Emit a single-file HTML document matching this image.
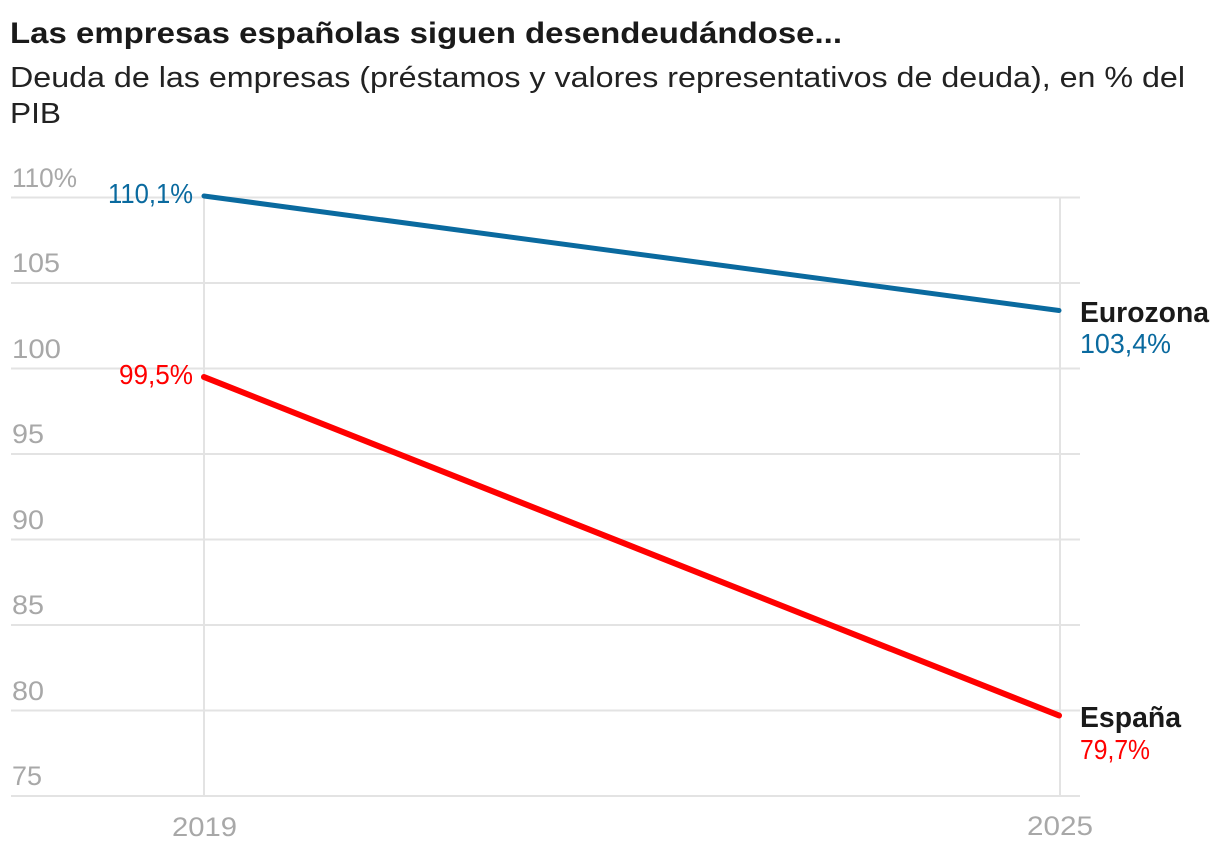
<!DOCTYPE html>
<html>
<head>
<meta charset="utf-8">
<style>
html,body{margin:0;padding:0;background:#fff;}
svg{display:block;}
</style>
</head>
<body>
<svg width="1220" height="850" viewBox="0 0 1220 850" xmlns="http://www.w3.org/2000/svg" font-family="'Liberation Sans', sans-serif">
  <rect width="1220" height="850" fill="#fff"/>
  <!-- Title -->
  <text x="10" y="43" font-size="30" font-weight="bold" fill="#1a1a1a" textLength="832" lengthAdjust="spacingAndGlyphs">Las empresas españolas siguen desendeudándose...</text>
  <text x="10" y="87" font-size="29" fill="#222" textLength="1175" lengthAdjust="spacingAndGlyphs">Deuda de las empresas (préstamos y valores representativos de deuda), en % del</text>
  <text x="10" y="123" font-size="29" fill="#222" textLength="51" lengthAdjust="spacingAndGlyphs">PIB</text>

  <!-- Gridlines -->
  <g stroke="#e3e3e3" stroke-width="2">
    <line x1="11" y1="197.5" x2="1080" y2="197.5"/>
    <line x1="11" y1="283" x2="1080" y2="283"/>
    <line x1="11" y1="368.5" x2="1080" y2="368.5"/>
    <line x1="11" y1="454" x2="1080" y2="454"/>
    <line x1="11" y1="539.5" x2="1080" y2="539.5"/>
    <line x1="11" y1="625" x2="1080" y2="625"/>
    <line x1="11" y1="710.5" x2="1080" y2="710.5"/>
    <line x1="11" y1="796" x2="1080" y2="796"/>
    <line x1="204" y1="197" x2="204" y2="796"/>
    <line x1="1060" y1="197" x2="1060" y2="796"/>
  </g>

  <!-- Y tick labels -->
  <g font-size="27" fill="#a8a8a8" lengthAdjust="spacingAndGlyphs">
    <text x="12" y="187" textLength="65" lengthAdjust="spacingAndGlyphs">110%</text>
    <text x="12" y="272" textLength="48" lengthAdjust="spacingAndGlyphs">105</text>
    <text x="12" y="358" textLength="49" lengthAdjust="spacingAndGlyphs">100</text>
    <text x="12" y="443" textLength="32" lengthAdjust="spacingAndGlyphs">95</text>
    <text x="12" y="529" textLength="32" lengthAdjust="spacingAndGlyphs">90</text>
    <text x="12" y="614" textLength="32" lengthAdjust="spacingAndGlyphs">85</text>
    <text x="12" y="700" textLength="32" lengthAdjust="spacingAndGlyphs">80</text>
    <text x="12" y="785" textLength="30" lengthAdjust="spacingAndGlyphs">75</text>
  </g>

  <!-- X labels -->
  <g font-size="27" fill="#a8a8a8">
    <text x="172" y="836" textLength="65" lengthAdjust="spacingAndGlyphs">2019</text>
    <text x="1027" y="835" textLength="66" lengthAdjust="spacingAndGlyphs">2025</text>
  </g>

  <!-- Series -->
  <line x1="204" y1="196" x2="1059" y2="310.5" stroke="#0a6a9f" stroke-width="5" stroke-linecap="round"/>
  <line x1="204" y1="377" x2="1059" y2="715.5" stroke="#ff0000" stroke-width="6" stroke-linecap="round"/>

  <!-- Start value labels -->
  <text x="108" y="203" font-size="28" fill="#0a6a9f" textLength="85" lengthAdjust="spacingAndGlyphs">110,1%</text>
  <text x="119" y="384" font-size="28" fill="#ff0000" textLength="74" lengthAdjust="spacingAndGlyphs">99,5%</text>

  <!-- End labels -->
  <text x="1080" y="322" font-size="29" font-weight="bold" fill="#1a1a1a" textLength="129" lengthAdjust="spacingAndGlyphs">Eurozona</text>
  <text x="1080" y="353" font-size="28" fill="#0a6a9f" textLength="91" lengthAdjust="spacingAndGlyphs">103,4%</text>
  <text x="1080" y="727" font-size="29" font-weight="bold" fill="#1a1a1a" textLength="101" lengthAdjust="spacingAndGlyphs">España</text>
  <text x="1080" y="759" font-size="28" fill="#ff0000" textLength="70" lengthAdjust="spacingAndGlyphs">79,7%</text>
</svg>
</body>
</html>
